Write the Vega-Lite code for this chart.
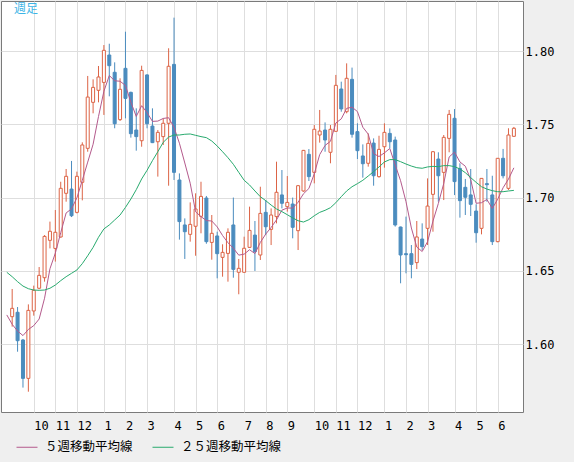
{
  "$schema": "https://vega.github.io/schema/vega-lite/v6.json",
  "width": 522,
  "height": 411,
  "autosize": "none",
  "padding": {"left": 1, "top": 1, "right": 51, "bottom": 50},
  "background": "#efefef",
  "title": {"text": "週足", "anchor": "start", "frame": "group", "orient": "top", "baseline": "top", "offset": 0, "dx": 13, "dy": 15, "fontSize": 12, "font": "Noto Sans CJK JP", "fontWeight": "normal", "color": "#3cb4e6"},
  "config": {
    "view": {"stroke": "#7a7a7a", "fill": "white"},
    "axis": {"domain": false, "ticks": false, "tickSize": 0, "gridColor": "#dedede", "gridWidth": 1, "labelFont": "DejaVu Sans Mono", "labelFontSize": 12, "labelColor": "#000000"},
    "legend": {"labelFont": "Noto Sans CJK JP", "labelFontSize": 12.5, "labelColor": "#000000"}
  },
  "datasets": {
    "candles": [
      {"w":-4,"o":1.6187,"h":1.6376,"l":1.6119,"c":1.6244},
      {"w":-3,"o":1.6217,"h":1.6253,"l":1.5948,"c":1.6023},
      {"w":-2,"o":1.6028,"h":1.6035,"l":1.5703,"c":1.5766},
      {"w":-1,"o":1.5766,"h":1.6271,"l":1.5675,"c":1.6230},
      {"w":0,"o":1.6226,"h":1.6399,"l":1.6194,"c":1.6367},
      {"w":1,"o":1.6381,"h":1.6526,"l":1.6375,"c":1.6469},
      {"w":2,"o":1.6453,"h":1.6744,"l":1.6426,"c":1.6735},
      {"w":3,"o":1.6708,"h":1.6836,"l":1.6653,"c":1.6770},
      {"w":4,"o":1.6653,"h":1.6915,"l":1.6563,"c":1.6763},
      {"w":5,"o":1.6731,"h":1.7108,"l":1.6726,"c":1.7063},
      {"w":6,"o":1.7029,"h":1.7195,"l":1.6972,"c":1.7145},
      {"w":7,"o":1.7058,"h":1.7250,"l":1.6867,"c":1.6876},
      {"w":8,"o":1.6899,"h":1.7177,"l":1.6892,"c":1.7145},
      {"w":9,"o":1.7104,"h":1.7377,"l":1.6981,"c":1.7359},
      {"w":10,"o":1.7336,"h":1.7830,"l":1.7313,"c":1.7686},
      {"w":11,"o":1.7650,"h":1.7807,"l":1.7575,"c":1.7752},
      {"w":12,"o":1.7732,"h":1.7898,"l":1.7650,"c":1.7823},
      {"w":13,"o":1.7786,"h":1.8041,"l":1.7564,"c":1.8005},
      {"w":14,"o":1.7973,"h":1.8050,"l":1.7691,"c":1.7900},
      {"w":15,"o":1.7855,"h":1.7923,"l":1.7473,"c":1.7504},
      {"w":16,"o":1.7532,"h":1.7814,"l":1.7523,"c":1.7739},
      {"w":17,"o":1.7882,"h":1.8132,"l":1.7541,"c":1.7677},
      {"w":18,"o":1.7718,"h":1.7723,"l":1.7409,"c":1.7436},
      {"w":19,"o":1.7461,"h":1.7609,"l":1.7320,"c":1.7416},
      {"w":20,"o":1.7388,"h":1.7900,"l":1.7347,"c":1.7868},
      {"w":21,"o":1.7837,"h":1.7841,"l":1.7473,"c":1.7504},
      {"w":22,"o":1.7488,"h":1.7609,"l":1.7372,"c":1.7375},
      {"w":23,"o":1.7381,"h":1.7461,"l":1.7143,"c":1.7445},
      {"w":24,"o":1.7416,"h":1.7541,"l":1.7359,"c":1.7507},
      {"w":25,"o":1.7507,"h":1.8019,"l":1.7081,"c":1.7896},
      {"w":26,"o":1.7909,"h":1.8228,"l":1.7120,"c":1.7172},
      {"w":27,"o":1.7120,"h":1.7165,"l":1.6713,"c":1.6836},
      {"w":28,"o":1.6813,"h":1.6858,"l":1.6581,"c":1.6767},
      {"w":29,"o":1.6749,"h":1.6967,"l":1.6699,"c":1.6817},
      {"w":30,"o":1.6804,"h":1.7029,"l":1.6603,"c":1.6922},
      {"w":31,"o":1.6872,"h":1.7108,"l":1.6756,"c":1.7008},
      {"w":32,"o":1.6997,"h":1.7011,"l":1.6685,"c":1.6699},
      {"w":33,"o":1.6694,"h":1.6881,"l":1.6576,"c":1.6756},
      {"w":34,"o":1.6738,"h":1.6767,"l":1.6449,"c":1.6617},
      {"w":35,"o":1.6592,"h":1.6681,"l":1.6460,"c":1.6626},
      {"w":36,"o":1.6619,"h":1.6790,"l":1.6426,"c":1.6763},
      {"w":37,"o":1.6813,"h":1.7000,"l":1.6453,"c":1.6510},
      {"w":38,"o":1.6490,"h":1.6581,"l":1.6340,"c":1.6517},
      {"w":39,"o":1.6490,"h":1.6733,"l":1.6488,"c":1.6654},
      {"w":40,"o":1.6660,"h":1.6938,"l":1.6658,"c":1.6776},
      {"w":41,"o":1.6744,"h":1.6840,"l":1.6499,"c":1.6631},
      {"w":42,"o":1.6608,"h":1.7074,"l":1.6574,"c":1.6892},
      {"w":43,"o":1.6899,"h":1.6983,"l":1.6744,"c":1.6801},
      {"w":44,"o":1.6783,"h":1.6926,"l":1.6676,"c":1.6881},
      {"w":45,"o":1.6870,"h":1.7245,"l":1.6824,"c":1.7036},
      {"w":46,"o":1.7018,"h":1.7188,"l":1.6926,"c":1.6961},
      {"w":47,"o":1.6938,"h":1.7147,"l":1.6904,"c":1.6967},
      {"w":48,"o":1.6956,"h":1.7000,"l":1.6722,"c":1.6797},
      {"w":49,"o":1.6774,"h":1.7086,"l":1.6642,"c":1.7081},
      {"w":50,"o":1.7045,"h":1.7325,"l":1.7040,"c":1.7322},
      {"w":51,"o":1.7295,"h":1.7331,"l":1.7113,"c":1.7143},
      {"w":52,"o":1.7172,"h":1.7495,"l":1.7097,"c":1.7466},
      {"w":53,"o":1.7427,"h":1.7598,"l":1.7375,"c":1.7454},
      {"w":54,"o":1.7461,"h":1.7513,"l":1.7313,"c":1.7393},
      {"w":55,"o":1.7309,"h":1.7495,"l":1.7234,"c":1.7466},
      {"w":56,"o":1.7452,"h":1.7837,"l":1.7450,"c":1.7766},
      {"w":57,"o":1.7741,"h":1.7791,"l":1.7586,"c":1.7605},
      {"w":58,"o":1.7586,"h":1.7916,"l":1.7575,"c":1.7814},
      {"w":59,"o":1.7807,"h":1.7887,"l":1.7409,"c":1.7432},
      {"w":60,"o":1.7450,"h":1.7507,"l":1.7263,"c":1.7320},
      {"w":61,"o":1.7284,"h":1.7363,"l":1.7136,"c":1.7231},
      {"w":62,"o":1.7234,"h":1.7438,"l":1.7211,"c":1.7370},
      {"w":63,"o":1.7372,"h":1.7404,"l":1.7081,"c":1.7149},
      {"w":64,"o":1.7143,"h":1.7422,"l":1.7136,"c":1.7329},
      {"w":65,"o":1.7347,"h":1.7507,"l":1.7204,"c":1.7445},
      {"w":66,"o":1.7438,"h":1.7472,"l":1.7336,"c":1.7381},
      {"w":67,"o":1.7393,"h":1.7416,"l":1.6802,"c":1.6813},
      {"w":68,"o":1.6799,"h":1.6802,"l":1.6415,"c":1.6608},
      {"w":69,"o":1.6617,"h":1.6870,"l":1.6483,"c":1.6610},
      {"w":70,"o":1.6617,"h":1.6676,"l":1.6449,"c":1.6544},
      {"w":71,"o":1.6556,"h":1.6840,"l":1.6512,"c":1.6731},
      {"w":72,"o":1.6717,"h":1.6824,"l":1.6642,"c":1.6665},
      {"w":73,"o":1.6790,"h":1.7131,"l":1.6676,"c":1.6942},
      {"w":74,"o":1.7022,"h":1.7318,"l":1.6767,"c":1.7313},
      {"w":75,"o":1.7263,"h":1.7309,"l":1.6972,"c":1.7149},
      {"w":76,"o":1.7172,"h":1.7427,"l":1.6983,"c":1.7411},
      {"w":77,"o":1.7404,"h":1.7598,"l":1.7309,"c":1.7568},
      {"w":78,"o":1.7541,"h":1.7604,"l":1.7017,"c":1.7109},
      {"w":79,"o":1.7199,"h":1.7234,"l":1.6863,"c":1.6979},
      {"w":80,"o":1.7070,"h":1.7127,"l":1.6881,"c":1.7002},
      {"w":81,"o":1.7018,"h":1.7195,"l":1.6874,"c":1.6954},
      {"w":82,"o":1.6908,"h":1.6954,"l":1.6692,"c":1.6760},
      {"w":83,"o":1.6790,"h":1.7131,"l":1.6749,"c":1.7131},
      {"w":84,"o":1.7095,"h":1.7195,"l":1.6972,"c":1.7088},
      {"w":85,"o":1.7018,"h":1.7149,"l":1.6676,"c":1.6699},
      {"w":86,"o":1.6699,"h":1.7270,"l":1.6695,"c":1.7268},
      {"w":87,"o":1.7268,"h":1.7332,"l":1.7131,"c":1.7149},
      {"w":88,"o":1.7063,"h":1.7473,"l":1.7052,"c":1.7427},
      {"w":89,"o":1.7418,"h":1.7482,"l":1.7416,"c":1.7473}
    ],
    "ma": [
      {"w":-5,"ma5":1.6199,"ma25":1.6490},
      {"w":-4,"ma5":1.6135,"ma25":1.6460},
      {"w":-3,"ma5":1.6089,"ma25":1.6426},
      {"w":-2,"ma5":1.6058,"ma25":1.6396},
      {"w":-1,"ma5":1.6100,"ma25":1.6378},
      {"w":0,"ma5":1.6126,"ma25":1.6369},
      {"w":1,"ma5":1.6171,"ma25":1.6367},
      {"w":2,"ma5":1.6313,"ma25":1.6369},
      {"w":3,"ma5":1.6514,"ma25":1.6381},
      {"w":4,"ma5":1.6621,"ma25":1.6403},
      {"w":5,"ma5":1.6760,"ma25":1.6433},
      {"w":6,"ma5":1.6895,"ma25":1.6460},
      {"w":7,"ma5":1.6923,"ma25":1.6483},
      {"w":8,"ma5":1.6998,"ma25":1.6506},
      {"w":9,"ma5":1.7118,"ma25":1.6549},
      {"w":10,"ma5":1.7242,"ma25":1.6603},
      {"w":11,"ma5":1.7364,"ma25":1.6660},
      {"w":12,"ma5":1.7553,"ma25":1.6729},
      {"w":13,"ma5":1.7725,"ma25":1.6786},
      {"w":14,"ma5":1.7833,"ma25":1.6813},
      {"w":15,"ma5":1.7797,"ma25":1.6847},
      {"w":16,"ma5":1.7794,"ma25":1.6881},
      {"w":17,"ma5":1.7765,"ma25":1.6933},
      {"w":18,"ma5":1.7651,"ma25":1.6990},
      {"w":19,"ma5":1.7554,"ma25":1.7054},
      {"w":20,"ma5":1.7627,"ma25":1.7127},
      {"w":21,"ma5":1.7580,"ma25":1.7186},
      {"w":22,"ma5":1.7520,"ma25":1.7252},
      {"w":23,"ma5":1.7522,"ma25":1.7313},
      {"w":24,"ma5":1.7540,"ma25":1.7377},
      {"w":25,"ma5":1.7545,"ma25":1.7413},
      {"w":26,"ma5":1.7479,"ma25":1.7427},
      {"w":27,"ma5":1.7371,"ma25":1.7427},
      {"w":28,"ma5":1.7236,"ma25":1.7432},
      {"w":29,"ma5":1.7098,"ma25":1.7434},
      {"w":30,"ma5":1.6903,"ma25":1.7425},
      {"w":31,"ma5":1.6870,"ma25":1.7416},
      {"w":32,"ma5":1.6843,"ma25":1.7409},
      {"w":33,"ma5":1.6840,"ma25":1.7386},
      {"w":34,"ma5":1.6800,"ma25":1.7352},
      {"w":35,"ma5":1.6741,"ma25":1.7313},
      {"w":36,"ma5":1.6692,"ma25":1.7272},
      {"w":37,"ma5":1.6654,"ma25":1.7227},
      {"w":38,"ma5":1.6607,"ma25":1.7172},
      {"w":39,"ma5":1.6614,"ma25":1.7118},
      {"w":40,"ma5":1.6644,"ma25":1.7086},
      {"w":41,"ma5":1.6618,"ma25":1.7045},
      {"w":42,"ma5":1.6694,"ma25":1.7006},
      {"w":43,"ma5":1.6751,"ma25":1.6979},
      {"w":44,"ma5":1.6796,"ma25":1.6949},
      {"w":45,"ma5":1.6848,"ma25":1.6922},
      {"w":46,"ma5":1.6914,"ma25":1.6904},
      {"w":47,"ma5":1.6929,"ma25":1.6883},
      {"w":48,"ma5":1.6928,"ma25":1.6861},
      {"w":49,"ma5":1.6968,"ma25":1.6842},
      {"w":50,"ma5":1.7026,"ma25":1.6833},
      {"w":51,"ma5":1.7062,"ma25":1.6849},
      {"w":52,"ma5":1.7162,"ma25":1.6876},
      {"w":53,"ma5":1.7293,"ma25":1.6899},
      {"w":54,"ma5":1.7356,"ma25":1.6913},
      {"w":55,"ma5":1.7384,"ma25":1.6931},
      {"w":56,"ma5":1.7509,"ma25":1.6965},
      {"w":57,"ma5":1.7537,"ma25":1.7006},
      {"w":58,"ma5":1.7609,"ma25":1.7045},
      {"w":59,"ma5":1.7617,"ma25":1.7074},
      {"w":60,"ma5":1.7587,"ma25":1.7095},
      {"w":61,"ma5":1.7480,"ma25":1.7118},
      {"w":62,"ma5":1.7433,"ma25":1.7147},
      {"w":63,"ma5":1.7300,"ma25":1.7177},
      {"w":64,"ma5":1.7280,"ma25":1.7209},
      {"w":65,"ma5":1.7305,"ma25":1.7243},
      {"w":66,"ma5":1.7335,"ma25":1.7259},
      {"w":67,"ma5":1.7223,"ma25":1.7259},
      {"w":68,"ma5":1.7115,"ma25":1.7245},
      {"w":69,"ma5":1.6972,"ma25":1.7229},
      {"w":70,"ma5":1.6792,"ma25":1.7215},
      {"w":71,"ma5":1.6662,"ma25":1.7204},
      {"w":72,"ma5":1.6632,"ma25":1.7200},
      {"w":73,"ma5":1.6699,"ma25":1.7209},
      {"w":74,"ma5":1.6839,"ma25":1.7213},
      {"w":75,"ma5":1.6960,"ma25":1.7211},
      {"w":76,"ma5":1.7096,"ma25":1.7218},
      {"w":77,"ma5":1.7277,"ma25":1.7218},
      {"w":78,"ma5":1.7310,"ma25":1.7211},
      {"w":79,"ma5":1.7243,"ma25":1.7195},
      {"w":80,"ma5":1.7214,"ma25":1.7170},
      {"w":81,"ma5":1.7122,"ma25":1.7136},
      {"w":82,"ma5":1.6961,"ma25":1.7104},
      {"w":83,"ma5":1.6965,"ma25":1.7074},
      {"w":84,"ma5":1.6987,"ma25":1.7058},
      {"w":85,"ma5":1.6926,"ma25":1.7047},
      {"w":86,"ma5":1.6989,"ma25":1.7040},
      {"w":87,"ma5":1.7067,"ma25":1.7040},
      {"w":88,"ma5":1.7126,"ma25":1.7045},
      {"w":89,"ma5":1.7203,"ma25":1.7049}
    ]
  },
  "encoding": {
    "x": {
      "field": "w", "type": "quantitative", "title": null,
      "scale": {"domain": [-5.1455, 89.764], "nice": false, "zero": false},
      "axis": {
        "values": [0,4,8,13,17,21,26,30,34,39,43,47,52,56,60,65,69,73,78,82,86],
        "labelExpr": "['10','11','12','1','2','3','4','5','6','7','8','9','10','11','12','1','2','3','4','5','6'][indexof([0,4,8,13,17,21,26,30,34,39,43,47,52,56,60,65,69,73,78,82,86], datum.value)]",
        "grid": true, "labelAlign": "left", "labelDx": -5, "labelBaseline": "middle", "labelPadding": 13, "labelFlush": false, "labelOverlap": false
      }
    }
  },
  "layer": [
    {
      "data": {"name": "candles"},
      "mark": {"type": "rule", "strokeWidth": 1, "clip": true},
      "encoding": {
        "y": {
          "field": "l", "type": "quantitative", "title": null,
          "scale": {"domain": [1.55365, 1.83416], "nice": false, "zero": false},
          "axis": {"orient": "right", "values": [1.6, 1.65, 1.7, 1.75, 1.8], "format": ".2f", "grid": true, "labelPadding": 2, "labelBaseline": "middle"}
        },
        "y2": {"field": "h"},
        "color": {"condition": {"test": "datum.c >= datum.o", "value": "#dc6446"}, "value": "#4b8cbe"}
      }
    },
    {
      "data": {"name": "candles"},
      "mark": {"type": "bar", "strokeWidth": 1, "clip": true},
      "encoding": {
        "y": {"field": "o", "type": "quantitative", "title": null},
        "y2": {"field": "c"},
        "size": {"value": 3},
        "fill": {"condition": {"test": "datum.c >= datum.o", "value": "#ffffff"}, "value": "#4b8cbe"},
        "stroke": {"condition": {"test": "datum.c >= datum.o", "value": "#dc6446"}, "value": "#4b8cbe"}
      }
    },
    {
      "data": {"name": "ma"},
      "transform": [{"fold": ["ma5", "ma25"], "as": ["key", "value"]}],
      "mark": {"type": "line", "strokeWidth": 1, "clip": true},
      "encoding": {
        "y": {"field": "value", "type": "quantitative", "title": null},
        "color": {
          "field": "key", "type": "nominal",
          "scale": {"domain": ["ma5", "ma25"], "range": ["#b45a8c", "#28aa6e"]},
          "legend": {
            "title": null, "orient": "none", "legendX": 15, "legendY": 435, "direction": "horizontal",
            "symbolType": "stroke", "symbolSize": 441, "symbolStrokeWidth": 1, "labelOffset": 7, "columnPadding": 17, "padding": 0, "labelLimit": 0,
            "labelExpr": "datum.label == 'ma5' ? '５週移動平均線' : '２５週移動平均線'"
          }
        }
      }
    }
  ]
}
